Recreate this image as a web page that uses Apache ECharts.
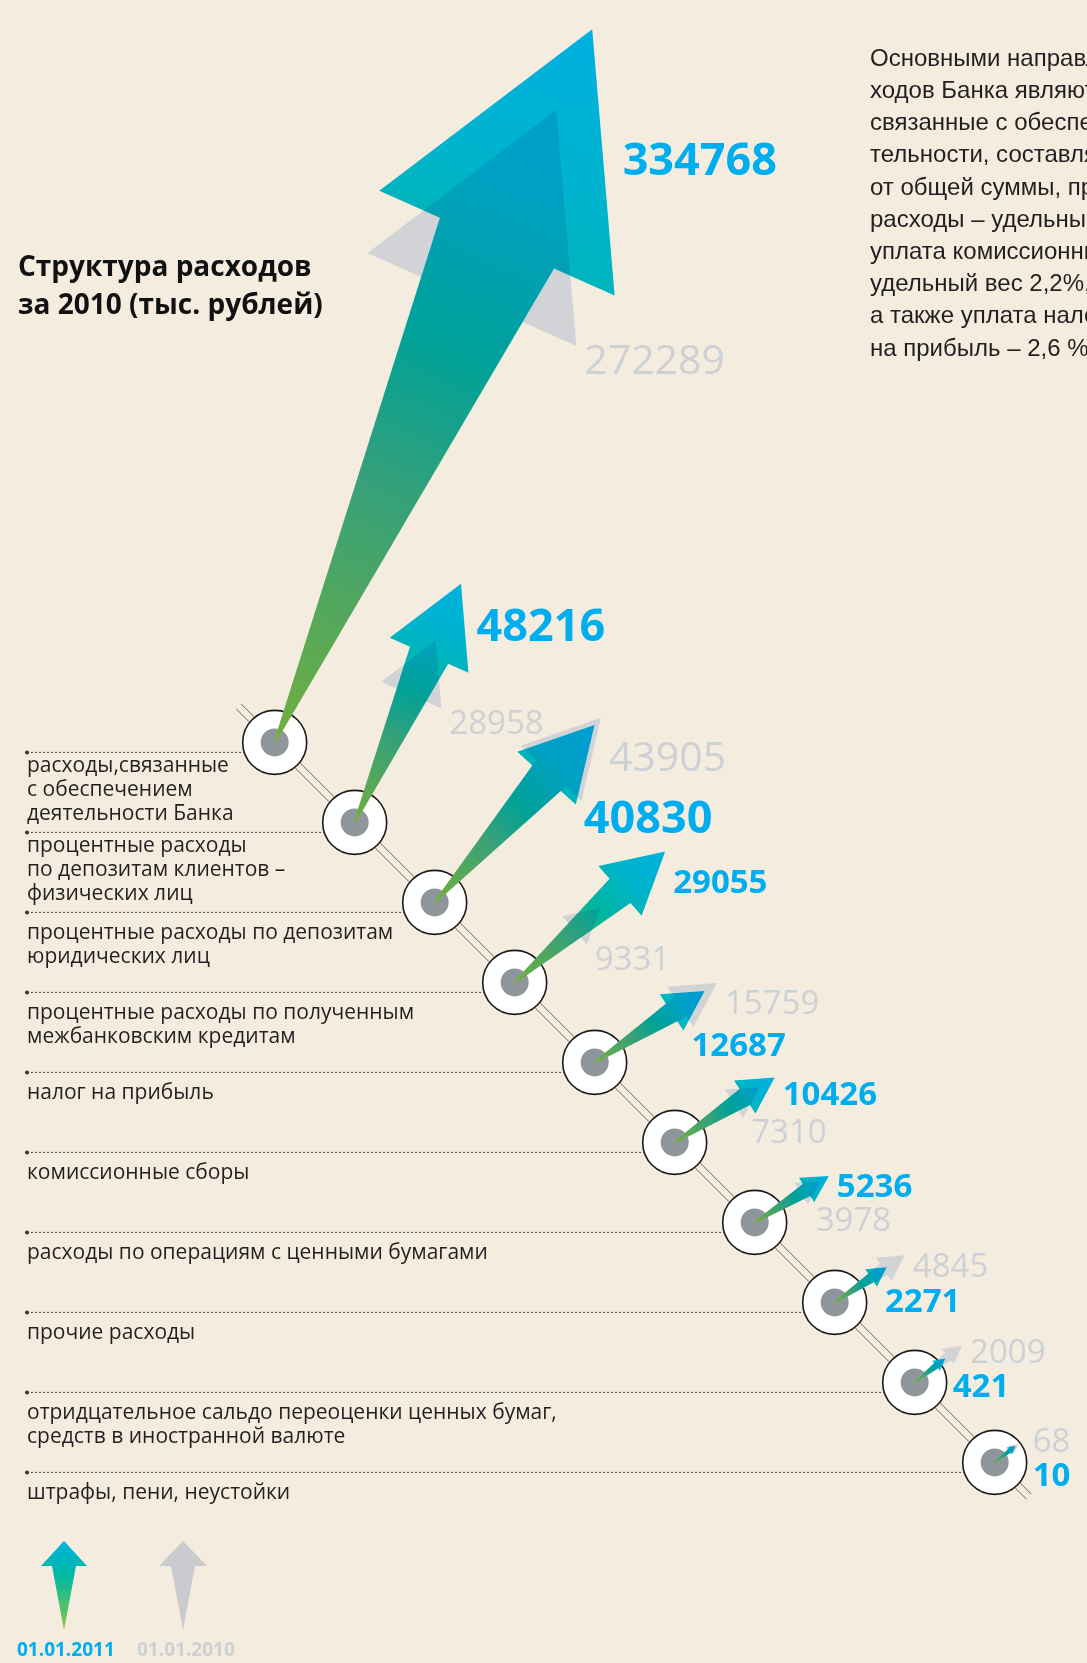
<!DOCTYPE html>
<html>
<head>
<meta charset="utf-8">
<title>Структура расходов за 2010</title>
<script src="https://cdn.jsdelivr.net/npm/echarts@6.0.0/dist/echarts.min.js"></script>
<style>
  html, body { margin: 0; padding: 0; background: #f4eddf; }
  #chart { width: 1087px; height: 1663px; }
</style>
</head>
<body>
<div id="chart"></div>
<script>
// статьи расходов, сверху вниз по диагонали
const categories = [
  'расходы,связанные\nс обеспечением\nдеятельности Банка',
  'процентные расходы\nпо депозитам клиентов –\nфизических лиц',
  'процентные расходы по депозитам\nюридических лиц',
  'процентные расходы по полученным\nмежбанковским кредитам',
  'налог на прибыль',
  'комиссионные сборы',
  'расходы по операциям с ценными бумагами',
  'прочие расходы',
  'отридцательное сальдо переоценки ценных бумаг,\nсредств в иностранной валюте',
  'штрафы, пени, неустойки'
];
// тыс. рублей
const values2011 = [334768, 48216, 40830, 29055, 12687, 10426, 5236, 2271, 421, 10];
const values2010 = [272289, 28958, 43905, 9331, 15759, 7310, 3978, 4845, 2009, 68];
const legendLabels = ['01.01.2011', '01.01.2010'];
const titleText = 'Структура расходов\nза 2010 (тыс. рублей)';
const noteText = [
  'Основными направлениями рас-',
  'ходов Банка являются расходы,',
  'связанные с обеспечением дея-',
  'тельности, составляющие',
  'от общей суммы, процентные',
  'расходы – удельный вес',
  'уплата комиссионных сборов –',
  'удельный вес 2,2%,',
  'а также уплата налога',
  'на прибыль – 2,6 %.'
].join('\n');

const BG = '#f4eddf';
const CYAN = '#00aeef';
const GREY_ARROW = '#d1d3d6';
const GREY_TEXT = '#cdd0d4';
const TEXT = '#231f20';
const SANS = '"Open Sans", sans-serif';

// 2011 arrows are drawn with multiply so they darken over the grey ones;
// the colours are divided by the background so they look right over it
function hexRgb(h) { return [1, 3, 5].map(k => parseInt(h.substr(k, 2), 16)); }
const bgRgb = hexRgb(BG);
function overBg(h) {
  const c = hexRgb(h).map((v, k) => Math.min(255, Math.round(v * 255 / bgRgb[k])));
  return 'rgb(' + c.join(',') + ')';
}
const stops2011 = [
  [0, '#86c440'], [0.35, '#3fb47e'], [0.55, '#00b59e'], [0.78, '#00b4cc'], [1, '#00b0ec']
];

// slope of the arrows in each row, degrees
const tilt = [66, 66, 48, 41, 33, 33, 32, 34, 38, 38];

function arrowLen(v) {
  return 25 + 0.366 * Math.pow(v, 0.6);
}

function arrowAt(c, i, v) {
  const L = arrowLen(v);
  const a = tilt[i] * Math.PI / 180;
  const dx = Math.cos(a), dy = -Math.sin(a);
  const nx = Math.sin(a), ny = Math.cos(a);
  const at = (s, w) => [c[0] + dx * s + nx * w, c[1] + dy * s + ny * w];
  const h = 0.3 * L, hw = 0.165 * L, sw = 0.08 * L;
  const tip = at(L, 0);
  const rb = at(L - h, hw);
  return {
    base: c, tip: tip, rb: rb,
    points: [at(0, -1), at(L - h, -sw), at(L - h, -hw), tip, rb, at(L - h, sw), at(0, 1)]
  };
}

function labelSpots(c, i) {
  const a = arrowAt(c, i, values2011[i]);
  const b = arrowAt(c, i, values2010[i]);
  const aBig = values2011[i] >= values2010[i];
  const right = g => [Math.max(g.tip[0], g.rb[0], c[0] + 30) + 8, (g.tip[1] + g.rb[1]) / 2];
  const below = g => [Math.max(g.rb[0], c[0] + 30) + 8, g.rb[1] + 16];
  const pa = aBig ? right(a) : below(a);
  const pb = aBig ? below(b) : right(b);
  const big = aBig ? pa : pb, small = aBig ? pb : pa;
  const gap = small[1] - big[1];
  if (gap < 34) {
    big[1] -= (34 - gap) / 2;
    small[1] += (34 - gap) / 2;
  }
  return { a: pa, b: pb };
}

const rows = categories.map((name, i) => [i, i, values2011[i], values2010[i]]);

const chart = echarts.init(document.getElementById('chart'));

const option = {
  backgroundColor: BG,
  animation: false,
  grid: { left: 234.7, top: 702.4, width: 800, height: 800 },
  xAxis: { type: 'category', data: categories, show: false },
  yAxis: { type: 'category', data: categories, show: false, inverse: true },
  graphic: [
    {
      type: 'text', left: 18, top: 249,
      style: { text: titleText, font: 'bold 28px ' + SANS, fill: '#111', lineHeight: 38 }
    },
    {
      type: 'text', left: 870, top: 43,
      style: { text: noteText, font: '24px "Liberation Sans", Arial, sans-serif', fill: TEXT, lineHeight: 32.2 }
    },
    {
      type: 'polygon',
      shape: { points: [[64, 1541], [87, 1566], [76, 1566], [64, 1630], [52, 1566], [41, 1566]] },
      style: {
        fill: new echarts.graphic.LinearGradient(0, 0, 0, 1, [
          { offset: 0, color: '#00b2e0' }, { offset: 0.4, color: '#00b9a0' }, { offset: 1, color: '#8cc63f' }
        ])
      }
    },
    {
      type: 'polygon',
      shape: { points: [[183, 1541], [207, 1566], [195, 1566], [183, 1630], [171, 1566], [159, 1566]] },
      style: { fill: '#c9cbce' }
    },
    {
      type: 'text', left: 17, top: 1641,
      style: { text: legendLabels[0], font: 'bold 19px ' + SANS, fill: CYAN }
    },
    {
      type: 'text', left: 137, top: 1641,
      style: { text: legendLabels[1], font: 'bold 19px ' + SANS, fill: GREY_TEXT }
    }
  ],
  series: [
    {
      // двойная линия-"рельс" через все узлы
      type: 'custom', name: 'rail', silent: true,
      data: [[0, 0]],
      encode: { x: 0, y: 1 },
      renderItem: function (params, api) {
        const p0 = api.coord([0, 0]);
        const p9 = api.coord([categories.length - 1, categories.length - 1]);
        const sx = (p9[0] - p0[0]) / (categories.length - 1);
        const sy = (p9[1] - p0[1]) / (categories.length - 1);
        const s = [p0[0] - 0.45 * sx, p0[1] - 0.45 * sy];
        const e = [p9[0] + 0.43 * sx, p9[1] + 0.43 * sy];
        const off = 3.5 / Math.SQRT2;
        const line = k => ({
          type: 'line',
          shape: { x1: s[0] + k * off, y1: s[1] - k * off, x2: e[0] + k * off, y2: e[1] - k * off },
          style: { stroke: '#6e675e', lineWidth: 1 }
        });
        return { type: 'group', children: [line(1), line(-1)] };
      }
    },
    {
      type: 'custom', name: 'guides', silent: true,
      data: rows,
      encode: { x: 0, y: 1 },
      renderItem: function (params, api) {
        const i = api.value(0);
        const c = api.coord([i, i]);
        const y = c[1] + 10;
        const name = categories[i];
        const lines = name.split('\n').length;
        return {
          type: 'group',
          children: [
            { type: 'line', shape: { x1: 27, y1: y, x2: c[0], y2: y },
              style: { stroke: '#4a4642', lineWidth: 1, lineDash: [2, 2] } },
            { type: 'circle', shape: { cx: 27, cy: y, r: 2 }, style: { fill: '#333' } },
            { type: 'text',
              style: { text: name, x: 27, y: y + (lines > 2 ? 2 : 9), font: '21px ' + SANS, fill: TEXT,
                       lineHeight: 24, align: 'left', verticalAlign: 'top' } }
          ]
        };
      }
    },
    {
      type: 'custom', name: 'nodes', silent: true,
      data: rows,
      encode: { x: 0, y: 1 },
      renderItem: function (params, api) {
        const i = api.value(0);
        const c = api.coord([i, i]);
        return {
          type: 'group',
          children: [
            { type: 'circle', shape: { cx: c[0], cy: c[1], r: 32 },
              style: { fill: '#ffffff', stroke: '#1a1a1a', lineWidth: 1.6 } },
            { type: 'circle', shape: { cx: c[0], cy: c[1], r: 14 }, style: { fill: '#8f969b' } }
          ]
        };
      }
    },
    {
      type: 'custom', name: '01.01.2010',
      data: rows,
      encode: { x: 0, y: 1 },
      renderItem: function (params, api) {
        const i = api.value(0);
        const g = arrowAt(api.coord([i, i]), i, api.value(3));
        return { type: 'polygon', shape: { points: g.points }, style: { fill: GREY_ARROW } };
      }
    },
    {
      type: 'custom', name: '01.01.2011',
      data: rows,
      encode: { x: 0, y: 1 },
      renderItem: function (params, api) {
        const i = api.value(0);
        const g = arrowAt(api.coord([i, i]), i, api.value(2));
        const fill = new echarts.graphic.LinearGradient(
          g.base[0], g.base[1], g.tip[0], g.tip[1],
          stops2011.map(s => ({ offset: s[0], color: overBg(s[1]) })), true);
        return { type: 'polygon', name: 'arrow2011', shape: { points: g.points },
                 style: { fill: fill, blend: 'multiply' } };
      }
    },
    {
      type: 'custom', name: 'values', silent: true,
      data: rows,
      encode: { x: 0, y: 1 },
      renderItem: function (params, api) {
        const i = api.value(0);
        const v1 = api.value(2), v0 = api.value(3);
        const spot = labelSpots(api.coord([i, i]), i);
        return {
          type: 'group',
          children: [
            { type: 'text',
              style: { text: String(v0), x: spot.b[0], y: spot.b[1], fill: GREY_TEXT,
                       font: (v0 >= 40000 ? 41 : 33) + 'px ' + SANS, align: 'left', verticalAlign: 'middle' } },
            { type: 'text',
              style: { text: String(v1), x: spot.a[0], y: spot.a[1], fill: CYAN,
                       font: 'bold ' + (v1 >= 40000 ? 45 : 33) + 'px ' + SANS, align: 'left', verticalAlign: 'middle' } }
          ]
        };
      }
    }
  ]
};

chart.setOption(option);

// the custom series does not pass the blend flag on, so set it on the drawn 2011 arrows
const zr = chart.getZr();
zr.storage.getDisplayList(true).forEach(function (el) {
  const f = el.style && el.style.fill;
  if (el.name === 'arrow2011' || (f && f.type === 'linear' && f.global)) {
    el.style.blend = 'multiply';
    el.markRedraw();
  }
});
zr.refreshImmediately();
</script>
</body>
</html>
